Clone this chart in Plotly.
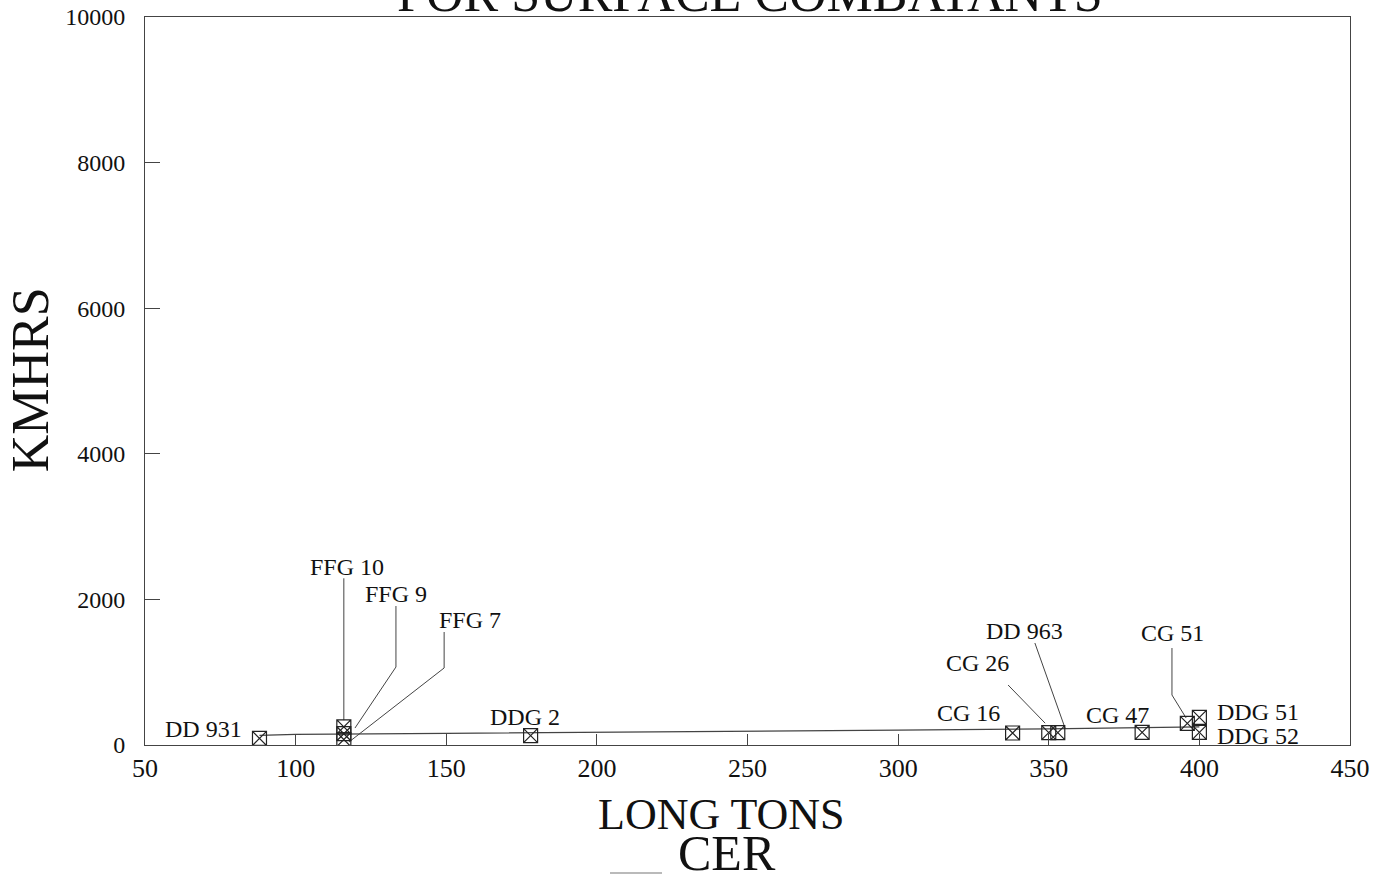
import plotly.graph_objects as go

# Ship class data: light ship weight (long tons) vs. labour (thousand man-hours)
ships = ["DD 931", "FFG 10", "FFG 9", "FFG 7", "DDG 2", "CG 16", "CG 26",
         "DD 963", "CG 47", "CG 51", "DDG 51", "DDG 52"]
long_tons = [88, 116, 116, 116, 178, 338, 350, 353, 381, 396, 400, 400]
kmhrs = [90, 250, 155, 75, 128, 165, 170, 170, 173, 297, 380, 173]

# CER curve
cer_x = [88, 100, 150, 200, 250, 300, 350, 400]
cer_y = [133, 145, 160, 172, 185, 205, 222, 250]

x_ticks = [50, 100, 150, 200, 250, 300, 350, 400, 450]
y_ticks = [0, 2000, 4000, 6000, 8000, 10000]
y_tick_text = ["0", "2000", "4000", "6000", "8000", "10000"]

SERIF = "Liberation Serif, Times New Roman, serif"
INK = "#111111"
LINE = "#444444"

# label placement: (text x, text y, anchor, leader path points, end offset)
labels = {
    "DD 931": dict(pos=(69.3, 225), anchor="center"),
    "FFG 10": dict(pos=(117.1, 2445), anchor="center",
                   leader=[(116, 2290)], end=(0, 90)),
    "FFG 9": dict(pos=(133.3, 2074), anchor="center",
                  leader=[(133.3, 1909), (133.3, 1071)], end=(3.7, 78)),
    "FFG 7": dict(pos=(157.9, 1717), anchor="center",
                  leader=[(149.3, 1552), (149.3, 1058)], end=(1.7, -34)),
    "DDG 2": dict(pos=(176.1, 385), anchor="center"),
    "CG 16": dict(pos=(323.5, 440), anchor="center"),
    "CG 26": dict(pos=(326.2, 1126), anchor="center",
                  leader=[(336.5, 824)], end=(-1.2, 130)),
    "DD 963": dict(pos=(341.8, 1566), anchor="center",
                   leader=[(345.4, 1401)], end=(2.4, 63)),
    "CG 47": dict(pos=(372.7, 412), anchor="center"),
    "CG 51": dict(pos=(391.2, 1538), anchor="center",
                  leader=[(390.9, 1332), (390.9, 687)], end=(-0.4, 74)),
    "DDG 51": dict(pos=(405.3, 460), anchor="left"),
    "DDG 52": dict(pos=(405.3, 130), anchor="left"),
}

fig = go.Figure()

fig.add_trace(go.Scatter(
    x=cer_x, y=cer_y, mode="lines", name="CER",
    line=dict(color=LINE, width=1.2), hoverinfo="skip", showlegend=False))

# leader lines from labels to their points
for name, x, y in zip(ships, long_tons, kmhrs):
    cfg = labels[name]
    if "leader" not in cfg:
        continue
    pts = list(cfg["leader"]) + [(x + cfg["end"][0], y + cfg["end"][1])]
    fig.add_trace(go.Scatter(
        x=[p[0] for p in pts], y=[p[1] for p in pts], mode="lines",
        line=dict(color=LINE, width=1), hoverinfo="skip", showlegend=False))

fig.add_trace(go.Scatter(
    x=long_tons, y=kmhrs, mode="markers", text=ships, showlegend=False,
    marker=dict(symbol="square-x-open", size=14, color="#222222",
                line=dict(width=1.2))))

annotations = []
for name in ships:
    cfg = labels[name]
    annotations.append(dict(
        x=cfg["pos"][0], y=cfg["pos"][1], xref="x", yref="y", text=name,
        showarrow=False, xanchor=cfg["anchor"], yanchor="middle",
        font=dict(family=SERIF, size=24, color=INK)))

# title, axis titles and CER key
annotations += [
    dict(x=0.502, y=0.99, xref="paper", yref="paper",
         text="FOR SURFACE COMBATANTS", showarrow=False,
         xanchor="center", yanchor="bottom",
         font=dict(family=SERIF, size=52, color=INK)),
    dict(x=-0.0954, y=0.501, xref="paper", yref="paper", text="KMHRS",
         textangle=-90, showarrow=False, xanchor="center", yanchor="middle",
         font=dict(family=SERIF, size=52, color=INK)),
    dict(x=0.4788, y=-0.0955, xref="paper", yref="paper", text="LONG TONS",
         showarrow=False, xanchor="center", yanchor="middle",
         font=dict(family=SERIF, size=44, color=INK)),
    dict(x=0.4834, y=-0.149, xref="paper", yref="paper", text="CER",
         showarrow=False, xanchor="center", yanchor="middle",
         font=dict(family=SERIF, size=50, color=INK)),
]

fig.add_shape(type="line", xref="paper", yref="paper",
              x0=(610 - 145) / 1205, x1=(662 - 145) / 1205,
              y0=(745 - 873) / 728, y1=(745 - 873) / 728,
              line=dict(color="#777777", width=1.2))

fig.update_layout(
    width=1386, height=879,
    margin=dict(l=145, r=36, t=17, b=134),
    paper_bgcolor="white", plot_bgcolor="white",
    annotations=annotations,
    showlegend=False,
    xaxis=dict(range=[50, 450], tickvals=x_ticks, ticks="inside",
               ticklen=11, tickcolor=LINE, showgrid=False, zeroline=False,
               showline=True, linecolor=LINE, linewidth=1, mirror=True,
               automargin=False,
               tickfont=dict(family=SERIF, size=26, color=INK)),
    yaxis=dict(range=[0, 10000], tickvals=y_ticks, ticktext=y_tick_text,
               ticks="inside",
               ticklen=15, tickcolor=LINE, showgrid=False, zeroline=False,
               showline=True, linecolor=LINE, linewidth=1, mirror=True,
               ticklabelstandoff=14, automargin=False,
               tickfont=dict(family=SERIF, size=24, color=INK)),
)

fig.write_html("out.html")
